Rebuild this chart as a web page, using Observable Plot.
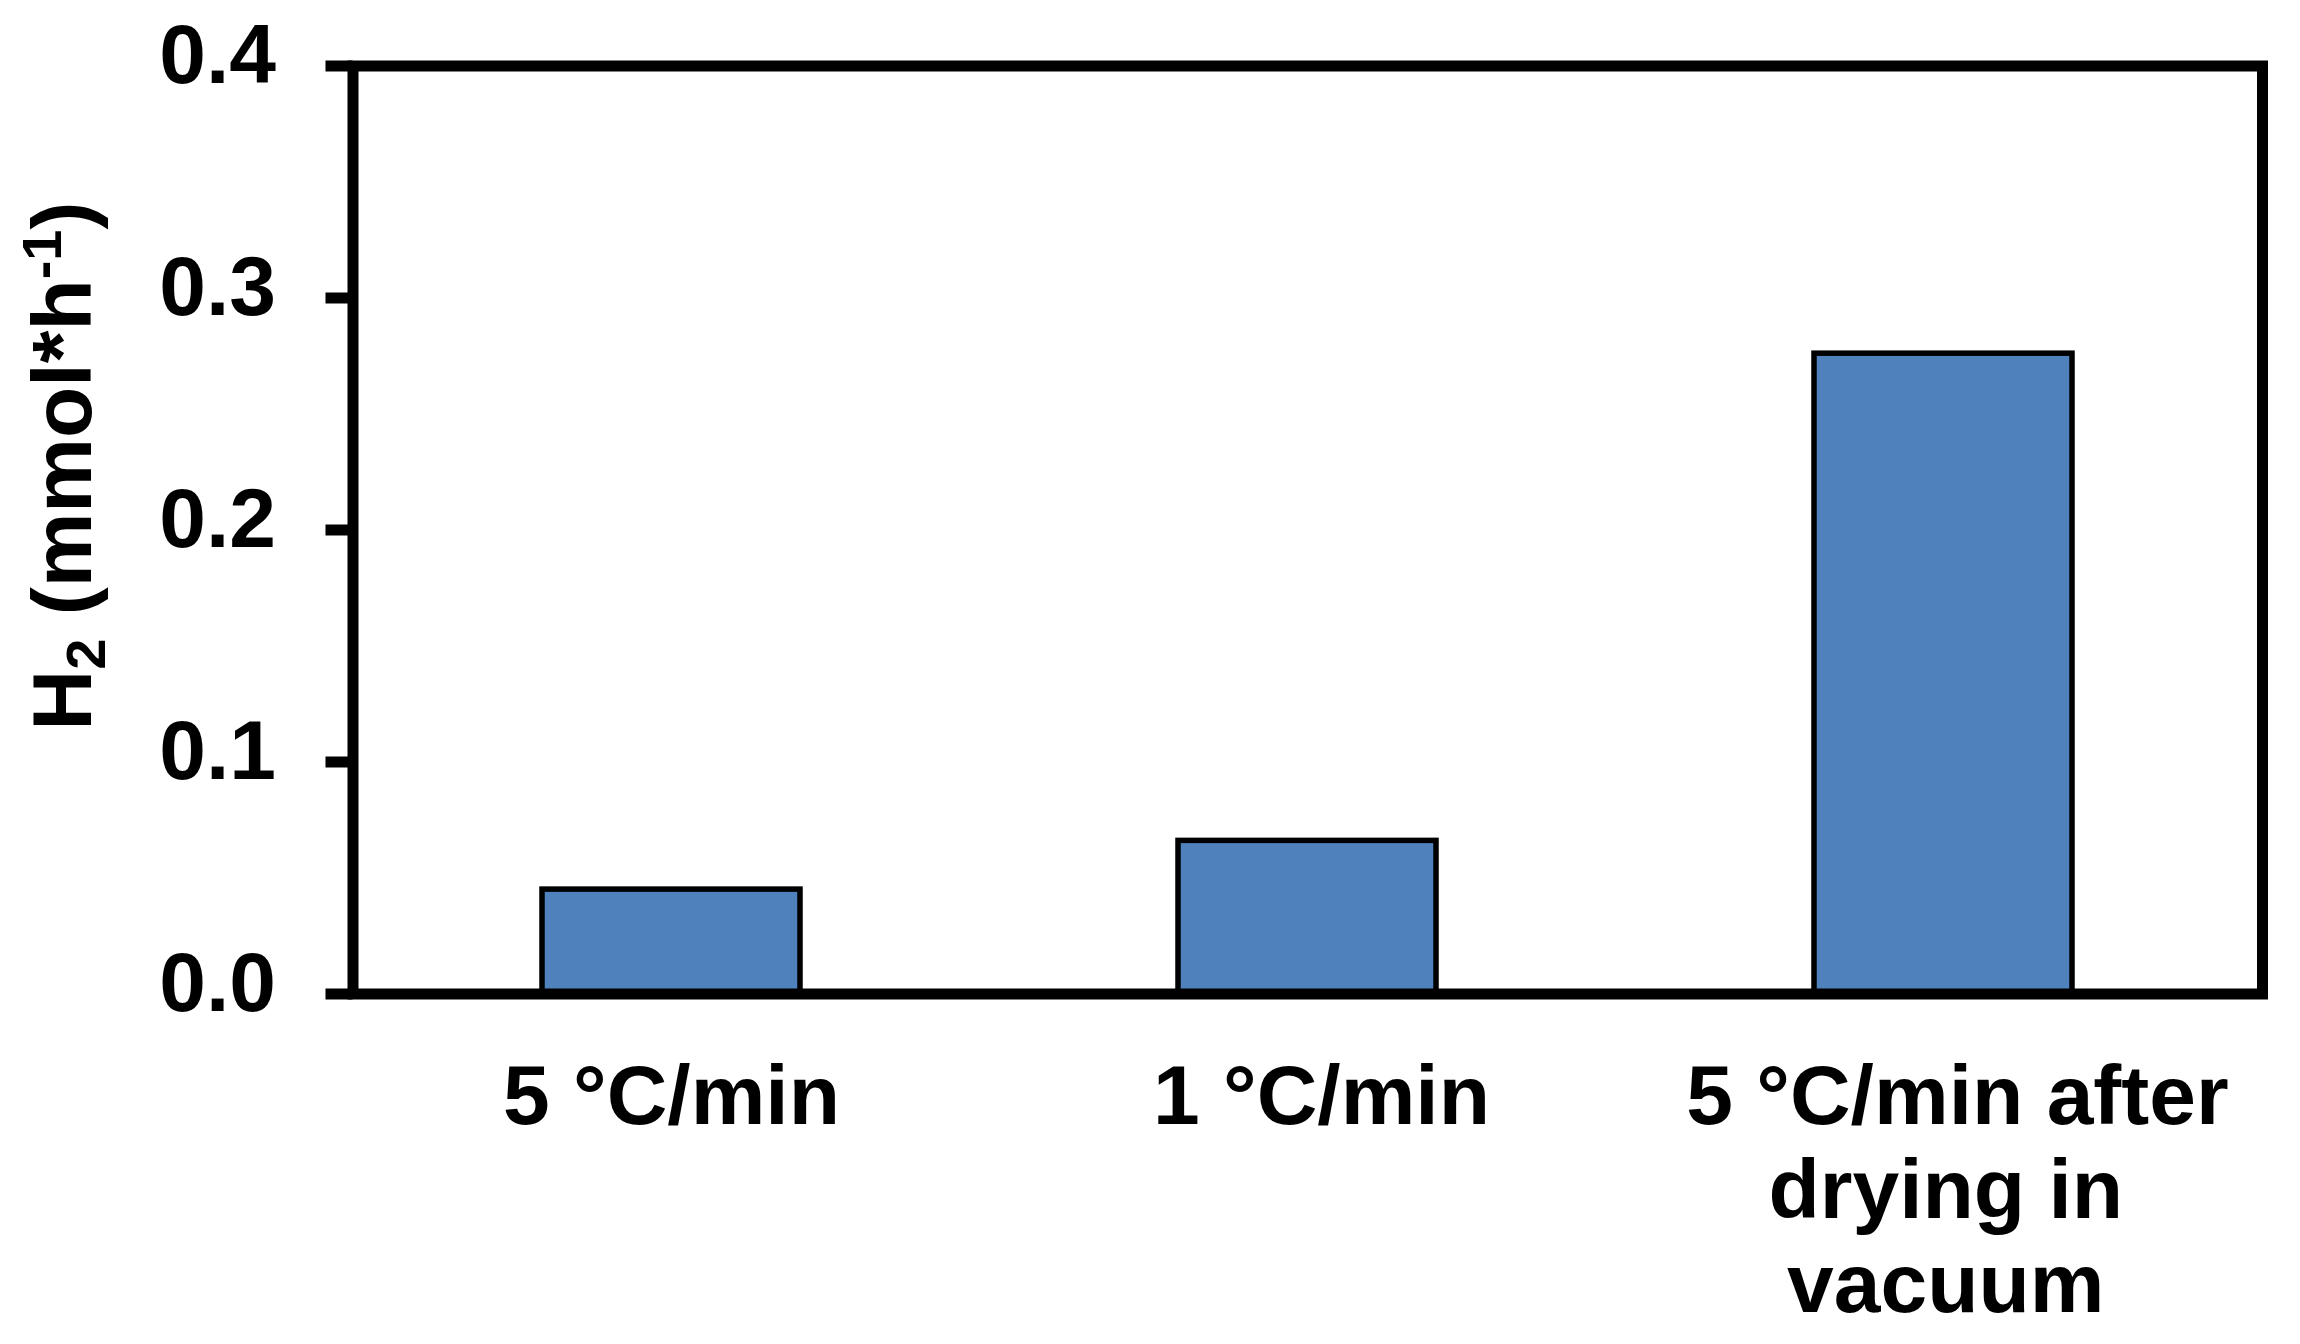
<!DOCTYPE html>
<html><head><meta charset="utf-8">
<script src="https://cdn.jsdelivr.net/npm/d3@7"></script>
<script src="https://cdn.jsdelivr.net/npm/@observablehq/plot@0.6"></script>
<style>body{margin:0;background:#fff} svg{display:block}</style>
</head><body><div id="chart"></div>
<script>
const categories = ["5 °C/min", "1 °C/min", "5 °C/min after\ndrying in\u00A0\nvacuum\u00A0"];
const values = [0.045, 0.066, 0.276];
const yTicks = [0, 0.1, 0.2, 0.3, 0.4];
const yTitleParts = [["H", "normal"], ["2", "sub"], [" (mmol*h", "normal"], ["-1", "sup"], [")", "normal"]];

const data = categories.map((c, i) => ({category: c, value: values[i]}));
const FONT = "'Liberation Sans', Arial, sans-serif";

const chart = Plot.plot({
  width: 2300, height: 1344,
  marginLeft: 352.5, marginRight: 38, marginTop: 65.5, marginBottom: 350.5,
  style: {fontFamily: FONT, fontSize: "84px", fontWeight: "bold", color: "black", background: "white", overflow: "visible"},
  x: {domain: categories, paddingInner: 0.595, paddingOuter: 0.2975, label: null},
  y: {domain: [0, 0.4], label: null},
  marks: [
    Plot.barY(data, {x: "category", y: "value", fill: "#4F81BD", stroke: "black", strokeWidth: 5.5}),
    Plot.frame({stroke: "black", strokeWidth: 11}),
    Plot.axisY({ticks: yTicks, tickFormat: () => "", tickSize: 27, strokeWidth: 11, label: null}),
    Plot.axisY({ticks: yTicks, tickFormat: d => d.toFixed(1), tickSize: 0, tickPadding: 77, dy: -10, label: null, fill: "black"}),
    Plot.axisX({ticks: categories.slice(0, 1), tickSize: 0, tickPadding: 63, lineHeight: 1.12, label: null, fill: "black"}),
    Plot.axisX({ticks: categories.slice(1), tickSize: 0, tickPadding: 63, lineHeight: 1.12, dx: 14, label: null, fill: "black"})
  ]
});
document.getElementById("chart").appendChild(chart);

const svg = d3.select(chart.tagName.toLowerCase() === "svg" ? chart : chart.querySelector("svg"));
const t = svg.append("text")
  .attr("transform", "translate(91,466) rotate(-90)")
  .attr("text-anchor", "middle")
  .attr("font-family", FONT)
  .attr("font-weight", "bold")
  .attr("font-size", 84)
  .attr("fill", "black");
let shift = 0;
for (const [s, kind] of yTitleParts) {
  const target = kind === "sub" ? 14 : kind === "sup" ? -30 : 0;
  t.append("tspan")
    .attr("dy", target - shift)
    .attr("font-size", kind === "normal" ? 84 : 56)
    .text(s);
  shift = target;
}
</script>
</body></html>
